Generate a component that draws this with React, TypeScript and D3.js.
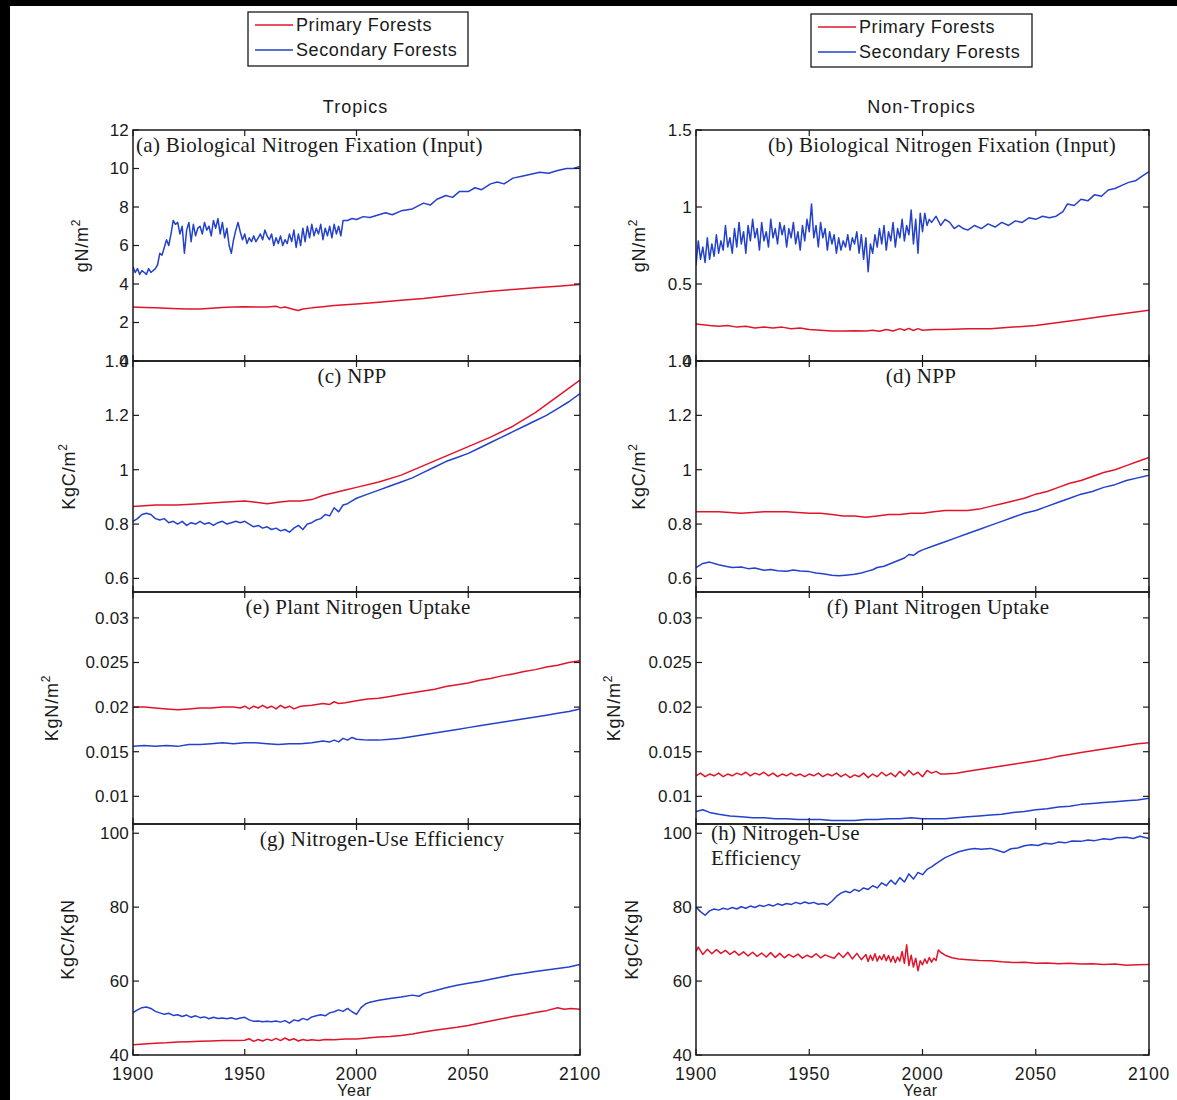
import React from 'react';
import * as d3 from 'd3';

// ---- data (year, value) ----
const bnfTropPrimary = [[1900,2.8],[1905,2.78],[1910,2.76],[1915,2.74],[1920,2.72],[1925,2.7],[1930,2.7],[1935,2.74],[1940,2.78],[1945,2.8],[1950,2.82],[1955,2.8],[1960,2.8],[1964,2.84],[1966,2.76],[1968,2.8],[1970,2.74],[1972,2.68],[1974,2.62],[1976,2.7],[1980,2.76],[1985,2.82],[1990,2.88],[1995,2.92],[2000,2.96],[2010,3.05],[2020,3.15],[2030,3.25],[2040,3.38],[2050,3.5],[2060,3.62],[2070,3.72],[2080,3.8],[2090,3.88],[2100,3.98]];
const bnfTropSecondary = [[1900,4.9],[1901,4.6],[1902,4.8],[1903,4.5],[1904,4.7],[1906,4.5],[1907,4.8],[1908,4.6],[1910,4.8],[1911,5.0],[1912,5.6],[1913,5.5],[1914,5.9],[1915,6.3],[1916,6.0],[1917,6.6],[1918,7.3],[1919,7.1],[1920,7.2],[1921,6.6],[1922,7.0],[1923,5.6],[1924,6.8],[1925,7.2],[1926,6.2],[1927,7.1],[1928,6.5],[1929,6.9],[1930,7.0],[1931,6.6],[1932,7.2],[1933,6.8],[1934,7.0],[1935,6.5],[1936,7.3],[1937,6.9],[1938,7.4],[1939,6.6],[1940,7.2],[1941,6.4],[1942,6.9],[1943,6.0],[1944,5.6],[1945,6.3],[1946,6.8],[1947,7.2],[1948,6.7],[1949,6.3],[1950,6.6],[1951,6.1],[1952,6.4],[1953,6.2],[1954,6.5],[1955,6.2],[1956,6.4],[1957,6.6],[1958,6.3],[1959,6.8],[1960,6.5],[1961,6.3],[1962,6.6],[1963,6.0],[1964,6.4],[1965,6.1],[1966,6.5],[1967,6.0],[1968,6.3],[1969,6.1],[1970,6.6],[1971,6.2],[1972,6.8],[1973,5.9],[1974,6.6],[1975,6.0],[1976,6.9],[1977,6.2],[1978,7.0],[1979,6.4],[1980,7.1],[1981,6.5],[1982,6.9],[1983,6.6],[1984,7.1],[1985,6.3],[1986,6.9],[1987,6.5],[1988,7.0],[1989,6.4],[1990,7.1],[1991,6.6],[1992,7.0],[1993,6.5],[1994,7.3],[1996,7.3],[1998,7.4],[2000,7.35],[2003,7.5],[2006,7.45],[2010,7.6],[2013,7.7],[2016,7.6],[2020,7.8],[2025,7.9],[2030,8.2],[2033,8.1],[2036,8.4],[2040,8.6],[2043,8.5],[2046,8.8],[2050,8.8],[2053,9.0],[2056,8.9],[2060,9.2],[2063,9.3],[2066,9.2],[2070,9.5],[2074,9.6],[2078,9.7],[2082,9.8],[2086,9.75],[2090,9.9],[2094,10.0],[2097,10.0],[2100,10.1]];

const bnfNonTropPrimary = [[1900,0.24],[1903,0.235],[1906,0.23],[1910,0.225],[1914,0.23],[1918,0.22],[1922,0.225],[1926,0.215],[1930,0.22],[1934,0.215],[1938,0.22],[1942,0.21],[1946,0.215],[1950,0.205],[1955,0.2],[1960,0.195],[1965,0.195],[1970,0.197],[1975,0.195],[1978,0.2],[1981,0.193],[1984,0.205],[1987,0.195],[1990,0.21],[1992,0.2],[1994,0.212],[1996,0.198],[1998,0.21],[2000,0.2],[2005,0.205],[2010,0.205],[2020,0.21],[2030,0.21],[2040,0.22],[2050,0.23],[2060,0.25],[2070,0.27],[2080,0.29],[2090,0.31],[2100,0.33]];
const bnfNonTropSecondary = [[1900,0.62],[1901,0.78],[1902,0.66],[1903,0.74],[1904,0.64],[1905,0.8],[1906,0.66],[1907,0.76],[1908,0.68],[1909,0.82],[1910,0.7],[1911,0.78],[1912,0.72],[1913,0.88],[1914,0.74],[1915,0.8],[1916,0.7],[1917,0.86],[1918,0.74],[1919,0.9],[1920,0.76],[1921,0.84],[1922,0.7],[1923,0.88],[1924,0.78],[1925,0.92],[1926,0.8],[1927,0.86],[1928,0.72],[1929,0.9],[1930,0.78],[1931,0.84],[1932,0.74],[1933,0.92],[1934,0.8],[1935,0.86],[1936,0.76],[1937,0.9],[1938,0.82],[1939,0.88],[1940,0.74],[1941,0.86],[1942,0.8],[1943,0.9],[1944,0.76],[1945,0.84],[1946,0.72],[1947,0.88],[1948,0.78],[1949,0.92],[1950,0.84],[1951,1.02],[1952,0.8],[1953,0.88],[1954,0.74],[1955,0.9],[1956,0.8],[1957,0.86],[1958,0.72],[1959,0.84],[1960,0.76],[1961,0.82],[1962,0.7],[1963,0.8],[1964,0.72],[1965,0.78],[1966,0.74],[1967,0.82],[1968,0.72],[1969,0.8],[1970,0.76],[1971,0.84],[1972,0.7],[1973,0.82],[1974,0.66],[1975,0.8],[1976,0.58],[1977,0.76],[1978,0.7],[1979,0.82],[1980,0.74],[1981,0.86],[1982,0.76],[1983,0.88],[1984,0.72],[1985,0.84],[1986,0.78],[1987,0.9],[1988,0.74],[1989,0.86],[1990,0.8],[1991,0.92],[1992,0.78],[1993,0.88],[1994,0.82],[1995,0.98],[1996,0.76],[1997,0.92],[1998,0.7],[1999,0.96],[2000,0.84],[2001,0.96],[2002,0.88],[2003,0.92],[2004,0.9],[2006,0.94],[2008,0.88],[2010,0.92],[2012,0.9],[2014,0.86],[2016,0.88],[2018,0.86],[2020,0.85],[2023,0.88],[2026,0.86],[2029,0.89],[2032,0.87],[2035,0.9],[2038,0.88],[2041,0.91],[2044,0.9],[2047,0.93],[2050,0.92],[2053,0.94],[2056,0.93],[2059,0.94],[2062,0.97],[2064,1.02],[2067,1.01],[2070,1.05],[2073,1.04],[2076,1.08],[2079,1.07],[2082,1.11],[2085,1.12],[2088,1.14],[2091,1.16],[2094,1.17],[2097,1.2],[2100,1.23]];

const nppTropPrimary = [[1900,0.865],[1910,0.87],[1920,0.87],[1930,0.875],[1940,0.88],[1950,0.885],[1955,0.88],[1960,0.875],[1965,0.88],[1970,0.885],[1975,0.885],[1980,0.89],[1985,0.905],[1990,0.915],[1995,0.925],[2000,0.935],[2010,0.955],[2020,0.98],[2030,1.015],[2040,1.05],[2050,1.085],[2060,1.12],[2070,1.16],[2080,1.21],[2090,1.27],[2100,1.33]];
const nppTropSecondary = [[1900,0.81],[1902,0.82],[1904,0.835],[1906,0.84],[1908,0.835],[1910,0.82],[1912,0.815],[1914,0.82],[1916,0.805],[1918,0.81],[1920,0.8],[1922,0.81],[1924,0.795],[1926,0.805],[1928,0.8],[1930,0.81],[1932,0.8],[1934,0.805],[1936,0.795],[1938,0.805],[1940,0.81],[1942,0.8],[1944,0.805],[1946,0.81],[1948,0.805],[1950,0.81],[1952,0.8],[1954,0.79],[1956,0.795],[1958,0.785],[1960,0.79],[1962,0.78],[1964,0.785],[1966,0.775],[1968,0.78],[1970,0.77],[1972,0.785],[1974,0.795],[1976,0.78],[1978,0.8],[1980,0.805],[1982,0.815],[1984,0.82],[1986,0.835],[1988,0.83],[1990,0.86],[1992,0.845],[1994,0.87],[1996,0.875],[1998,0.885],[2000,0.895],[2005,0.91],[2010,0.925],[2015,0.94],[2020,0.955],[2025,0.97],[2030,0.99],[2035,1.01],[2040,1.03],[2045,1.045],[2050,1.06],[2055,1.08],[2060,1.1],[2065,1.12],[2070,1.14],[2075,1.16],[2080,1.18],[2085,1.2],[2090,1.225],[2095,1.25],[2100,1.28]];

const nppNonTropPrimary = [[1900,0.845],[1910,0.845],[1920,0.84],[1930,0.845],[1940,0.845],[1950,0.84],[1955,0.84],[1960,0.835],[1965,0.83],[1970,0.83],[1975,0.825],[1980,0.83],[1985,0.835],[1990,0.835],[1995,0.84],[2000,0.84],[2005,0.845],[2010,0.85],[2015,0.85],[2020,0.85],[2025,0.855],[2030,0.865],[2035,0.875],[2040,0.885],[2045,0.895],[2050,0.91],[2055,0.92],[2060,0.935],[2065,0.95],[2070,0.96],[2075,0.975],[2080,0.99],[2085,1.0],[2090,1.015],[2095,1.03],[2100,1.045]];
const nppNonTropSecondary = [[1900,0.64],[1903,0.655],[1906,0.66],[1910,0.65],[1913,0.645],[1916,0.64],[1920,0.642],[1923,0.636],[1926,0.638],[1930,0.63],[1933,0.633],[1936,0.628],[1940,0.626],[1943,0.631],[1946,0.627],[1950,0.625],[1953,0.62],[1956,0.617],[1960,0.612],[1963,0.61],[1966,0.612],[1970,0.615],[1973,0.62],[1975,0.625],[1978,0.632],[1980,0.64],[1983,0.645],[1986,0.655],[1989,0.665],[1992,0.675],[1994,0.688],[1996,0.685],[1998,0.697],[2000,0.705],[2005,0.72],[2010,0.735],[2015,0.75],[2020,0.765],[2025,0.78],[2030,0.795],[2035,0.81],[2040,0.825],[2045,0.84],[2050,0.85],[2055,0.865],[2060,0.88],[2065,0.895],[2070,0.91],[2075,0.92],[2080,0.935],[2085,0.945],[2090,0.96],[2095,0.97],[2100,0.98]];

const uptakeTropPrimary = [[1900,0.02],[1905,0.02],[1910,0.0199],[1915,0.0198],[1920,0.0197],[1925,0.0198],[1930,0.0199],[1935,0.0199],[1940,0.02],[1945,0.02],[1948,0.0199],[1950,0.0201],[1952,0.0198],[1954,0.0201],[1956,0.0199],[1958,0.0202],[1960,0.0199],[1962,0.0201],[1964,0.0198],[1966,0.0202],[1968,0.0199],[1970,0.0201],[1972,0.0198],[1975,0.0201],[1980,0.0202],[1985,0.0204],[1988,0.0203],[1990,0.0206],[1992,0.0204],[1995,0.0205],[2000,0.0207],[2005,0.0209],[2010,0.021],[2015,0.0212],[2020,0.0214],[2025,0.0216],[2030,0.0218],[2035,0.022],[2040,0.0223],[2045,0.0225],[2050,0.0227],[2055,0.023],[2060,0.0232],[2065,0.0235],[2070,0.0237],[2075,0.024],[2080,0.0242],[2085,0.0245],[2090,0.0247],[2095,0.025],[2100,0.0252]];
const uptakeTropSecondary = [[1900,0.0156],[1905,0.0157],[1910,0.0156],[1915,0.0157],[1920,0.0156],[1925,0.0158],[1930,0.0158],[1935,0.0159],[1940,0.016],[1945,0.0159],[1950,0.016],[1955,0.016],[1960,0.0159],[1965,0.0158],[1970,0.0159],[1975,0.0159],[1980,0.016],[1985,0.0162],[1988,0.0161],[1990,0.0163],[1992,0.0161],[1994,0.0165],[1996,0.0163],[1998,0.0166],[2000,0.0164],[2005,0.0163],[2010,0.0163],[2015,0.0164],[2020,0.0165],[2025,0.0167],[2030,0.0169],[2035,0.0171],[2040,0.0173],[2045,0.0175],[2050,0.0177],[2055,0.0179],[2060,0.0181],[2065,0.0183],[2070,0.0185],[2075,0.0187],[2080,0.0189],[2085,0.0191],[2090,0.0193],[2095,0.0195],[2100,0.0198]];

const uptakeNonTropPrimary = [[1900,0.0123],[1902,0.0126],[1904,0.0122],[1906,0.0125],[1908,0.0123],[1910,0.0126],[1912,0.0122],[1914,0.0125],[1916,0.0123],[1918,0.0126],[1920,0.0124],[1922,0.0127],[1924,0.0123],[1926,0.0126],[1928,0.0124],[1930,0.0127],[1932,0.0123],[1934,0.0126],[1936,0.0122],[1938,0.0125],[1940,0.0123],[1942,0.0126],[1944,0.0123],[1946,0.0125],[1948,0.0122],[1950,0.0125],[1952,0.0123],[1954,0.0126],[1956,0.0122],[1958,0.0125],[1960,0.0123],[1962,0.0126],[1964,0.0122],[1966,0.0125],[1968,0.0121],[1970,0.0124],[1972,0.0122],[1974,0.0126],[1976,0.0121],[1978,0.0125],[1980,0.0122],[1982,0.0127],[1984,0.0123],[1986,0.0126],[1988,0.0122],[1990,0.0128],[1992,0.0123],[1994,0.0129],[1996,0.0124],[1998,0.0127],[2000,0.0122],[2002,0.0129],[2004,0.0126],[2006,0.0128],[2008,0.0125],[2010,0.0125],[2015,0.0126],[2020,0.0128],[2025,0.013],[2030,0.0132],[2035,0.0134],[2040,0.0136],[2045,0.0138],[2050,0.014],[2055,0.0142],[2060,0.0145],[2065,0.0147],[2070,0.0149],[2075,0.0151],[2080,0.0153],[2085,0.0155],[2090,0.0157],[2095,0.0159],[2100,0.016]];
const uptakeNonTropSecondary = [[1900,0.0083],[1903,0.0085],[1906,0.0082],[1910,0.008],[1915,0.0078],[1920,0.0077],[1925,0.0076],[1930,0.0076],[1935,0.0075],[1940,0.0075],[1945,0.0074],[1950,0.0074],[1955,0.0074],[1960,0.0073],[1965,0.0073],[1970,0.0073],[1975,0.0074],[1980,0.0074],[1985,0.0075],[1990,0.0075],[1995,0.0076],[2000,0.0075],[2005,0.0075],[2010,0.0075],[2015,0.0076],[2020,0.0077],[2025,0.0078],[2030,0.0079],[2035,0.008],[2040,0.0082],[2045,0.0083],[2050,0.0085],[2055,0.0086],[2060,0.0088],[2065,0.0089],[2070,0.0091],[2075,0.0092],[2080,0.0093],[2085,0.0094],[2090,0.0095],[2095,0.0096],[2100,0.0098]];

const nueTropPrimary = [[1900,42.8],[1905,43.0],[1910,43.2],[1915,43.3],[1920,43.5],[1925,43.6],[1930,43.7],[1935,43.8],[1940,43.9],[1945,43.9],[1950,44.0],[1952,44.4],[1954,43.7],[1956,44.2],[1958,43.8],[1960,44.3],[1962,43.9],[1964,44.5],[1966,43.9],[1968,44.6],[1970,44.0],[1972,44.4],[1974,43.8],[1976,44.2],[1978,43.9],[1980,44.1],[1983,43.9],[1986,44.2],[1990,44.1],[1995,44.3],[2000,44.3],[2005,44.6],[2010,44.9],[2015,45.0],[2020,45.3],[2025,45.7],[2030,46.2],[2035,46.7],[2040,47.1],[2045,47.5],[2050,48.0],[2055,48.6],[2060,49.2],[2065,49.8],[2070,50.4],[2075,50.9],[2080,51.5],[2085,52.0],[2090,52.8],[2093,52.4],[2096,52.6],[2100,52.4]];
const nueTropSecondary = [[1900,51.5],[1902,52.2],[1904,52.8],[1906,53.0],[1908,52.6],[1910,51.8],[1912,51.4],[1914,51.0],[1916,51.3],[1918,50.7],[1920,50.9],[1922,50.4],[1924,50.8],[1926,50.2],[1928,50.6],[1930,50.1],[1932,50.3],[1934,49.8],[1936,50.2],[1938,49.9],[1940,50.0],[1942,49.8],[1944,50.1],[1946,49.7],[1948,50.0],[1950,50.2],[1952,49.5],[1954,49.1],[1956,49.2],[1958,49.0],[1960,49.1],[1962,49.0],[1964,49.2],[1966,48.9],[1968,49.3],[1970,48.6],[1972,49.5],[1974,49.2],[1976,49.9],[1978,49.5],[1980,50.3],[1982,50.6],[1984,50.9],[1986,50.6],[1988,51.4],[1990,51.7],[1992,52.2],[1994,51.8],[1996,52.6],[1998,51.7],[2000,51.0],[2002,52.8],[2004,53.8],[2006,54.3],[2010,54.8],[2015,55.3],[2020,55.7],[2025,56.2],[2028,55.9],[2030,56.6],[2035,57.4],[2040,58.2],[2045,58.9],[2050,59.4],[2055,59.9],[2060,60.5],[2065,61.1],[2070,61.7],[2075,62.1],[2080,62.6],[2085,63.0],[2090,63.4],[2095,63.8],[2100,64.5]];

const nueNonTropPrimary = [[1900,68.0],[1901,69.2],[1903,67.2],[1905,68.6],[1907,67.4],[1909,68.5],[1911,67.5],[1913,68.3],[1915,67.2],[1917,68.1],[1919,67.0],[1921,67.9],[1923,66.8],[1925,67.8],[1927,66.7],[1929,67.6],[1931,66.5],[1933,67.7],[1935,66.4],[1937,67.5],[1939,66.3],[1941,67.2],[1943,66.5],[1945,67.3],[1947,66.2],[1949,67.0],[1951,66.4],[1953,67.4],[1955,66.3],[1957,67.1],[1959,66.6],[1961,66.2],[1963,67.6],[1965,66.4],[1967,67.8],[1969,66.0],[1971,67.5],[1973,65.8],[1975,67.2],[1976,65.3],[1977,67.0],[1978,65.6],[1979,67.4],[1980,65.4],[1981,66.8],[1982,65.8],[1983,67.2],[1984,65.5],[1985,66.9],[1986,65.2],[1987,66.7],[1988,65.0],[1989,66.5],[1990,65.4],[1991,68.0],[1992,64.8],[1993,69.8],[1994,64.2],[1995,67.0],[1996,63.8],[1997,66.2],[1998,62.8],[1999,65.5],[2000,64.4],[2001,66.0],[2002,64.8],[2003,66.4],[2004,65.1],[2005,66.2],[2006,65.6],[2007,68.4],[2008,67.8],[2010,67.0],[2013,66.3],[2016,66.0],[2020,65.8],[2025,65.6],[2030,65.5],[2035,65.2],[2040,65.0],[2045,65.1],[2050,64.8],[2055,64.9],[2060,64.7],[2065,64.8],[2070,64.6],[2075,64.7],[2080,64.5],[2085,64.6],[2090,64.3],[2095,64.4],[2100,64.5]];
const nueNonTropSecondary = [[1900,80.0],[1902,78.8],[1904,77.8],[1906,79.0],[1908,79.5],[1910,79.2],[1912,79.7],[1914,79.4],[1916,79.9],[1918,79.5],[1920,80.1],[1922,79.7],[1924,80.3],[1926,79.9],[1928,80.5],[1930,80.2],[1932,80.7],[1934,80.3],[1936,80.9],[1938,80.5],[1940,81.0],[1942,80.7],[1944,81.3],[1946,80.9],[1948,81.4],[1950,81.0],[1952,81.3],[1954,80.8],[1956,81.0],[1958,80.6],[1960,81.6],[1962,82.9],[1964,83.8],[1966,84.3],[1968,83.9],[1970,84.8],[1972,84.3],[1974,85.2],[1976,84.8],[1978,85.8],[1980,85.2],[1982,86.6],[1984,85.8],[1986,87.3],[1988,86.2],[1990,88.0],[1992,86.8],[1994,89.0],[1996,87.6],[1998,89.4],[2000,88.8],[2002,90.2],[2004,90.9],[2006,91.8],[2008,92.6],[2010,93.4],[2013,94.2],[2016,95.0],[2020,95.6],[2023,95.9],[2026,95.7],[2030,95.9],[2033,95.4],[2036,94.8],[2039,95.8],[2042,96.0],[2045,96.6],[2048,96.9],[2051,96.7],[2054,97.3],[2057,97.1],[2060,97.6],[2063,97.4],[2066,97.9],[2070,97.8],[2073,98.2],[2076,98.0],[2080,98.5],[2083,98.3],[2086,98.8],[2090,98.9],[2093,98.6],[2096,99.2],[2100,98.6]];

// axis ticks
const yearTicks = [1900, 1950, 2000, 2050, 2100];
const bnfTropTicks = [0, 2, 4, 6, 8, 10, 12];
const bnfNonTropTicks = [0, 0.5, 1, 1.5];
const nppTicks = [0.6, 0.8, 1, 1.2, 1.4];
const uptakeTicks = [0.01, 0.015, 0.02, 0.025, 0.03];
const nueTicks = [40, 60, 80, 100];

const seriesNames = ['Primary Forests', 'Secondary Forests'];
const regionNames = ['Tropics', 'Non-Tropics'];

// layout
const W = 1177, H = 1100;
const colX = [[133, 580], [696, 1149]];
const rowY = [130, 361, 592, 824, 1055];
const RED = '#e2142c';
const BLUE = '#2341cc';
const INK = '#1a1a1a';
const SANS = '"Liberation Sans", Arial, sans-serif';
const SERIF = '"Liberation Serif", "Times New Roman", serif';

const panels = [
  { col: 0, row: 0, domain: [0, 12], ticks: bnfTropTicks, unit: ['gN/m', '2'], labelX: 88,
    title: ['(a) Biological Nitrogen Fixation (Input)'], titleX: 136, anchor: 'start', primary: bnfTropPrimary, secondary: bnfTropSecondary },
  { col: 1, row: 0, domain: [0, 1.5], ticks: bnfNonTropTicks, unit: ['gN/m', '2'], labelX: 645,
    title: ['(b) Biological Nitrogen Fixation (Input)'], titleX: 942, anchor: 'middle', primary: bnfNonTropPrimary, secondary: bnfNonTropSecondary },
  { col: 0, row: 1, domain: [0.55, 1.4], ticks: nppTicks, unit: ['KgC/m', '2'], labelX: 75,
    title: ['(c) NPP'], titleX: 352, anchor: 'middle', primary: nppTropPrimary, secondary: nppTropSecondary },
  { col: 1, row: 1, domain: [0.55, 1.4], ticks: nppTicks, unit: ['KgC/m', '2'], labelX: 645,
    title: ['(d) NPP'], titleX: 921, anchor: 'middle', primary: nppNonTropPrimary, secondary: nppNonTropSecondary },
  { col: 0, row: 2, domain: [0.0069, 0.0329], ticks: uptakeTicks, unit: ['KgN/m', '2'], labelX: 58,
    title: ['(e) Plant Nitrogen Uptake'], titleX: 358, anchor: 'middle', primary: uptakeTropPrimary, secondary: uptakeTropSecondary },
  { col: 1, row: 2, domain: [0.0069, 0.0329], ticks: uptakeTicks, unit: ['KgN/m', '2'], labelX: 620,
    title: ['(f) Plant Nitrogen Uptake'], titleX: 938, anchor: 'middle', primary: uptakeNonTropPrimary, secondary: uptakeNonTropSecondary },
  { col: 0, row: 3, domain: [40, 102.5], ticks: nueTicks, unit: ['KgC/KgN', ''], labelX: 74,
    title: ['(g) Nitrogen-Use Efficiency'], titleX: 382, anchor: 'middle', primary: nueTropPrimary, secondary: nueTropSecondary },
  { col: 1, row: 3, domain: [40, 102.5], ticks: nueTicks, unit: ['KgC/KgN', ''], labelX: 638,
    title: ['(h) Nitrogen-Use', 'Efficiency'], titleX: 711, anchor: 'start', primary: nueNonTropPrimary, secondary: nueNonTropSecondary },
];

const Panel = ({ p }) => {
  const [x0, x1] = colX[p.col];
  const top = rowY[p.row];
  const bottom = rowY[p.row + 1];
  const x = d3.scaleLinear().domain([1900, 2100]).range([x0, x1]);
  const y = d3.scaleLinear().domain(p.domain).range([bottom, top]);
  const line = d3.line().x(d => x(d[0])).y(d => y(d[1]));
  const tl = 6;
  const labelY = (top + bottom) / 2;
  return (
    <g>
      <defs>
        <clipPath id={`clip-${p.col}-${p.row}`}>
          <rect x={x0} y={top} width={x1 - x0} height={bottom - top} />
        </clipPath>
      </defs>
      <g clipPath={`url(#clip-${p.col}-${p.row})`}>
        <path d={line(p.primary)} fill="none" stroke={RED} strokeWidth={1.5} strokeLinejoin="round" />
        <path d={line(p.secondary)} fill="none" stroke={BLUE} strokeWidth={1.5} strokeLinejoin="round" />
      </g>
      <rect x={x0} y={top} width={x1 - x0} height={bottom - top} fill="none" stroke={INK} strokeWidth={1.5} />
      {yearTicks.map(t => (
        <g key={t}>
          <line x1={x(t)} x2={x(t)} y1={bottom} y2={bottom - tl} stroke={INK} strokeWidth={1.2} />
          <line x1={x(t)} x2={x(t)} y1={top} y2={top + tl} stroke={INK} strokeWidth={1.2} />
        </g>
      ))}
      {p.ticks.map(t => (
        <g key={t}>
          <line x1={x0} x2={x0 + tl} y1={y(t)} y2={y(t)} stroke={INK} strokeWidth={1.2} />
          <line x1={x1} x2={x1 - tl} y1={y(t)} y2={y(t)} stroke={INK} strokeWidth={1.2} />
          <text x={x0 - 4} y={y(t)} dy="0.35em" textAnchor="end" fontFamily={SANS} fontSize={17} letterSpacing={0.2} fill={INK}>{String(t)}</text>
        </g>
      ))}
      <text transform={`translate(${p.labelX},${labelY}) rotate(-90)`} textAnchor="middle" fontFamily={SANS} fontSize={18} letterSpacing={0.8} fill={INK}>
        {p.unit[0]}
        {p.unit[1] && <tspan fontSize={12} dy={-8}>{p.unit[1]}</tspan>}
      </text>
      {p.title.map((t, i) => (
        <text key={i} x={p.titleX} y={top + (p.title.length > 1 ? 16 : 22) + i * 25} textAnchor={p.anchor}
          fontFamily={SERIF} fontSize={21} letterSpacing={0.3} fill={INK}>{t}</text>
      ))}
    </g>
  );
};

const Legend = ({ x, y, w, h }) => (
  <g>
    <rect x={x} y={y} width={w} height={h} fill="#fff" stroke={INK} strokeWidth={1.3} />
    {seriesNames.map((name, i) => (
      <g key={name}>
        <line x1={x + 7} x2={x + 45} y1={y + 13 + i * 25} y2={y + 13 + i * 25} stroke={i === 0 ? RED : BLUE} strokeWidth={1.5} />
        <text x={x + 48} y={y + 13 + i * 25} dy="0.35em" fontFamily={SANS} fontSize={18} letterSpacing={0.6} fill={INK}>{name}</text>
      </g>
    ))}
  </g>
);

export default function App() {
  const xTickScales = colX.map(([a, b]) => d3.scaleLinear().domain([1900, 2100]).range([a, b]));
  return (
    <svg width={W} height={H} style={{ position: 'absolute', left: 0, top: 0 }}>
      <rect width={W} height={H} fill="#000" />
      <rect x={10} y={6} width={W - 10} height={H - 6} fill="#fff" />
      <Legend x={248} y={12} w={220} h={54} />
      <Legend x={811} y={14} w={221} h={53} />
      {regionNames.map((r, i) => (
        <text key={r} x={(colX[i][0] + colX[i][1]) / 2 - 1} y={113} textAnchor="middle" fontFamily={SANS} fontSize={18} letterSpacing={1} fill={INK}>{r}</text>
      ))}
      {panels.map((p, i) => <Panel key={i} p={p} />)}
      {xTickScales.map((s, i) => (
        <g key={i}>
          {yearTicks.map(t => (
            <text key={t} x={s(t)} y={1080} textAnchor="middle" fontFamily={SANS} fontSize={17.5} letterSpacing={0.8} fill={INK}>{t}</text>
          ))}
          <text x={(colX[i][0] + colX[i][1]) / 2 - 2} y={1096} textAnchor="middle" fontFamily={SANS} fontSize={16} letterSpacing={0.5} fill={INK}>Year</text>
        </g>
      ))}
    </svg>
  );
}
